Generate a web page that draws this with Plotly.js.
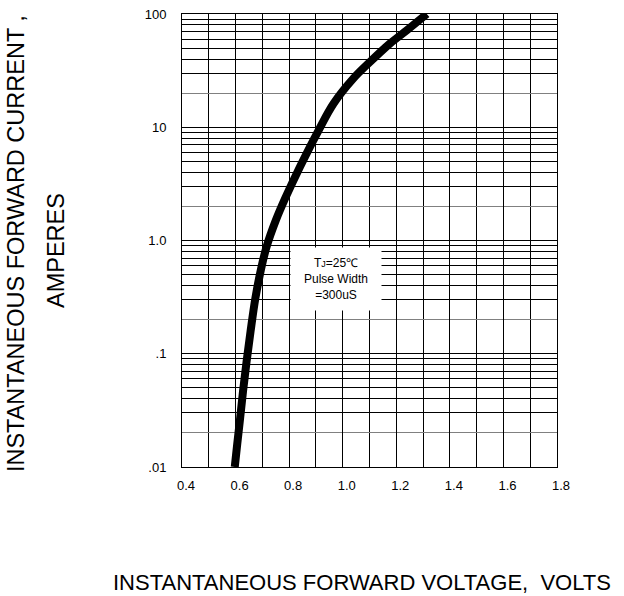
<!DOCTYPE html>
<html>
<head>
<meta charset="utf-8">
<script src="https://cdn.plot.ly/plotly-3.0.1.min.js"></script>
<style>
  html, body { margin: 0; padding: 0; background: #fff; }
  #chart { width: 624px; height: 596px; }
</style>
</head>
<body>
<div id="chart"></div>
<script>
// Forward voltage (V) and instantaneous forward current (A)
const voltage = [0.597, 0.606, 0.617, 0.628, 0.641, 0.656, 0.674, 0.695, 0.717, 0.750, 0.785, 0.841, 0.910, 0.966, 1.040, 1.096, 1.177, 1.240, 1.314];
const current = [0.010, 0.0158, 0.027, 0.047, 0.085, 0.158, 0.31, 0.56, 0.90, 1.50, 2.35, 4.50, 9.40, 16.2, 27.0, 36.6, 55.0, 72.0, 100.0];

const yDecades = [0.01, 0.1, 1, 10, 100];
const yDecadeLabels = ['.01', '.1', '1.0', '10', '100'];
const xRange = [0.4, 1.8];
const noteLines = ['T<span style="font-size:9px">J</span>=25\u2103', 'Pulse Width', '=300uS'];
const yTitleLine1 = 'INSTANTANEOUS FORWARD CURRENT ,';
const yTitleLine2 = 'AMPERES';
const xTitle = 'INSTANTANEOUS FORWARD VOLTAGE,  VOLTS';

// grid values: decades labelled, 3..9 multiples unlabelled, 2 multiples as minor (grey)
const majorVals = [], majorText = [], minorVals = [];
yDecades.forEach((d, i) => {
  majorVals.push(d); majorText.push(yDecadeLabels[i]);
  if (i < yDecades.length - 1) {
    minorVals.push(d * 2);
    for (let m = 3; m <= 9; m++) { majorVals.push(d * m); majorText.push(''); }
  }
});

const font = 'Liberation Sans, Arial, sans-serif';

const trace = {
  x: voltage, y: current, type: 'scatter', mode: 'lines',
  line: { color: '#000', width: 8, shape: 'spline', smoothing: 1 },
  hoverinfo: 'skip'
};

const layout = {
  width: 624, height: 596,
  margin: { l: 182, r: 67, t: 14, b: 129 },
  paper_bgcolor: '#fff', plot_bgcolor: '#fff',
  showlegend: false,
  font: { family: font, color: '#000', size: 13 },
  xaxis: {
    range: xRange, dtick: 0.2, tick0: 0.4, tickformat: '.1f',
    showgrid: true, gridcolor: '#000', gridwidth: 1,
    minor: { dtick: 0.1, showgrid: true, gridcolor: '#000', gridwidth: 1 },
    showline: true, linecolor: '#000', linewidth: 1, mirror: true,
    ticks: '', ticklabelstandoff: 6, ticklabelshift: 4, zeroline: false,
    tickfont: { size: 13, family: font, color: '#000' }
  },
  yaxis: {
    type: 'log', range: [-2, 2],
    tickmode: 'array', tickvals: majorVals, ticktext: majorText,
    showgrid: true, gridcolor: '#000', gridwidth: 1,
    minor: { tickmode: 'array', tickvals: minorVals, showgrid: true, gridcolor: '#808080', gridwidth: 1, ticks: '' },
    showline: true, linecolor: '#000', linewidth: 1, mirror: true,
    ticks: '', ticklabelstandoff: 12, zeroline: false,
    tickfont: { size: 13, family: font, color: '#000' }
  },
  annotations: [
    {
      xref: 'x', yref: 'y', x: 0.976, y: Math.log10(0.46),
      text: noteLines.join('<br>'), showarrow: false,
      bgcolor: '#fff', width: 88, height: 60, align: 'center',
      font: { size: 12, family: font, color: '#000' }
    },
    {
      xref: 'paper', yref: 'paper', x: -0.443, y: 0.494, xanchor: 'center', yanchor: 'middle',
      text: yTitleLine1, textangle: -90, showarrow: false,
      font: { size: 23.5, family: font, color: '#000' }
    },
    {
      xref: 'paper', yref: 'paper', x: -0.336, y: 0.479, xanchor: 'center', yanchor: 'middle',
      text: yTitleLine2, textangle: -90, showarrow: false,
      font: { size: 23.5, family: font, color: '#000' }
    },
    {
      xref: 'paper', yref: 'paper', x: 0.48, y: -0.255, xanchor: 'center', yanchor: 'middle',
      text: xTitle, showarrow: false,
      font: { size: 22, family: font, color: '#000' }
    }
  ]
};

Plotly.newPlot('chart', [trace], layout, { staticPlot: true, displayModeBar: false });
</script>
</body>
</html>
